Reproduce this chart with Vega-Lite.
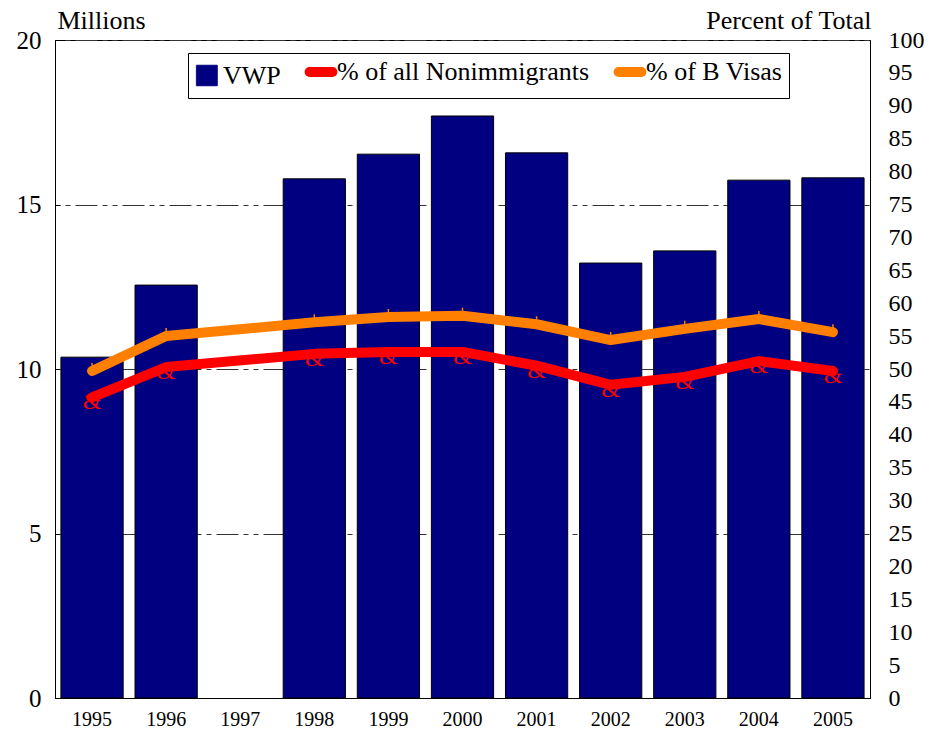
{
  "$schema": "https://vega.github.io/schema/vega-lite/v6.json",
  "width": 815,
  "height": 658,
  "autosize": {"type": "none"},
  "padding": {"left": 55, "top": 40, "right": 62, "bottom": 36},
  "background": "white",
  "config": {
    "view": {"stroke": "black", "strokeWidth": 1},
    "font": "Liberation Serif",
    "legend": {"labelFont": "Liberation Serif", "labelFontSize": 26, "labelColor": "black", "labelLimit": 0, "title": null}
  },
  "datasets": {
    "bars": [
      {"year": "1995", "millions": 10.36},
      {"year": "1996", "millions": 12.55},
      {"year": "1998", "millions": 15.78},
      {"year": "1999", "millions": 16.53},
      {"year": "2000", "millions": 17.69},
      {"year": "2001", "millions": 16.57},
      {"year": "2002", "millions": 13.22},
      {"year": "2003", "millions": 13.59},
      {"year": "2004", "millions": 15.74},
      {"year": "2005", "millions": 15.81}
    ],
    "lines": [
      {"year": "1995", "series": "% of all Nonimmigrants", "pct": 45.7},
      {"year": "1996", "series": "% of all Nonimmigrants", "pct": 50.3},
      {"year": "1998", "series": "% of all Nonimmigrants", "pct": 52.3},
      {"year": "1999", "series": "% of all Nonimmigrants", "pct": 52.6},
      {"year": "2000", "series": "% of all Nonimmigrants", "pct": 52.6},
      {"year": "2001", "series": "% of all Nonimmigrants", "pct": 50.5},
      {"year": "2002", "series": "% of all Nonimmigrants", "pct": 47.6},
      {"year": "2003", "series": "% of all Nonimmigrants", "pct": 48.8},
      {"year": "2004", "series": "% of all Nonimmigrants", "pct": 51.2},
      {"year": "2005", "series": "% of all Nonimmigrants", "pct": 49.7},
      {"year": "1995", "series": "% of B Visas", "pct": 49.7},
      {"year": "1996", "series": "% of B Visas", "pct": 55.0},
      {"year": "1998", "series": "% of B Visas", "pct": 57.1},
      {"year": "1999", "series": "% of B Visas", "pct": 57.9},
      {"year": "2000", "series": "% of B Visas", "pct": 58.1},
      {"year": "2001", "series": "% of B Visas", "pct": 56.8},
      {"year": "2002", "series": "% of B Visas", "pct": 54.4},
      {"year": "2003", "series": "% of B Visas", "pct": 56.1},
      {"year": "2004", "series": "% of B Visas", "pct": 57.6},
      {"year": "2005", "series": "% of B Visas", "pct": 55.6}
    ]
  },
  "layer": [
    {
      "data": {"name": "bars"},
      "mark": {"type": "bar", "stroke": "black", "strokeWidth": 1},
      "encoding": {
        "x": {
          "field": "year", "type": "ordinal",
          "scale": {"domain": ["1995","1996","1997","1998","1999","2000","2001","2002","2003","2004","2005"], "paddingInner": 0.16, "paddingOuter": 0.08},
          "axis": {"title": null, "labelAngle": 0, "labelFont": "Liberation Serif", "labelFontSize": 20, "labelColor": "black", "labelPadding": 11, "ticks": false, "domainColor": "black"}
        },
        "y": {
          "field": "millions", "type": "quantitative",
          "scale": {"domain": [0, 20]},
          "axis": {
            "values": [0, 5, 10, 15, 20],
            "title": "Millions", "titleAngle": 0, "titleAlign": "left", "titleBaseline": "alphabetic",
            "titleX": 2, "titleY": -12, "titleFont": "Liberation Serif", "titleFontSize": 26, "titleFontWeight": "normal", "titleColor": "black",
            "labelFont": "Liberation Serif", "labelFontSize": 25, "labelColor": "black", "labelPadding": 19,
            "ticks": true, "tickSize": -5, "tickColor": "black", "domainColor": "black",
            "grid": true, "gridColor": "#333333", "gridDash": [5, 5, 5, 5, 22, 5], "gridWidth": 1
          }
        },
        "color": {
          "datum": "VWP",
          "scale": {"domain": ["VWP", "% of all Nonimmigrants", "% of B Visas"], "range": ["#000080", "#FF0000", "#FF8000"]},
          "legend": {
            "title": null, "orient": "none", "direction": "horizontal",
            "legendX": 133, "legendY": 13,
            "strokeColor": "black", "fillColor": "white", "padding": 6,
            "labelFont": "Liberation Serif", "labelFontSize": 26, "labelColor": "black", "labelLimit": 0,
            "columnPadding": 8, "labelOffset": 3, "symbolOpacity": 1, "symbolSize": 676, "symbolStrokeWidth": 1,
            "encode": {
              "symbols": {
                "update": {
                  "shape": {"signal": "datum.value === 'VWP' ? 'square' : 'stroke'"},
                  "size": {"signal": "datum.value === 'VWP' ? 420 : 520"},
                  "fill": {"signal": "datum.value === 'VWP' ? '#000080' : 'transparent'"},
                  "stroke": {"signal": "datum.value === 'VWP' ? 'black' : (datum.value === '% of B Visas' ? '#FF8000' : '#FF0000')"},
                  "strokeWidth": {"signal": "datum.value === 'VWP' ? 1 : 10"},
                  "strokeCap": {"value": "round"}
                }
              }
            }
          }
        }
      }
    },
    {
      "data": {"name": "lines"},
      "mark": {"type": "line", "strokeWidth": 10, "strokeCap": "round", "strokeJoin": "round"},
      "encoding": {
        "x": {"field": "year", "type": "ordinal"},
        "y": {
          "field": "pct", "type": "quantitative",
          "scale": {"domain": [0, 100]},
          "axis": {
            "orient": "right", "values": [0,5,10,15,20,25,30,35,40,45,50,55,60,65,70,75,80,85,90,95,100],
            "title": "Percent of Total", "titleAngle": 0, "titleAlign": "right", "titleBaseline": "alphabetic",
            "titleX": 1, "titleY": -12, "titleFont": "Liberation Serif", "titleFontSize": 26, "titleFontWeight": "normal", "titleColor": "black",
            "labelFont": "Liberation Serif", "labelFontSize": 24, "labelColor": "black", "labelPadding": 18,
            "ticks": false, "domainColor": "black", "grid": false
          }
        },
        "color": {
          "field": "series", "type": "nominal",
          "legend": {
            "title": null, "orient": "none", "direction": "horizontal",
            "legendX": 133, "legendY": 13,
            "strokeColor": "black", "fillColor": "white", "padding": 6,
            "labelFont": "Liberation Serif", "labelFontSize": 26, "labelColor": "black", "labelLimit": 0,
            "columnPadding": 8, "labelOffset": 3, "symbolOpacity": 1, "symbolSize": 676, "symbolStrokeWidth": 1,
            "encode": {
              "symbols": {
                "update": {
                  "shape": {"signal": "datum.value === 'VWP' ? 'square' : 'stroke'"},
                  "size": {"signal": "datum.value === 'VWP' ? 420 : 520"},
                  "fill": {"signal": "datum.value === 'VWP' ? '#000080' : 'transparent'"},
                  "stroke": {"signal": "datum.value === 'VWP' ? 'black' : (datum.value === '% of B Visas' ? '#FF8000' : '#FF0000')"},
                  "strokeWidth": {"signal": "datum.value === 'VWP' ? 1 : 10"},
                  "strokeCap": {"value": "round"}
                }
              }
            }
          }
        }
      }
    },
    {
      "data": {"name": "lines"},
      "transform": [{"filter": "datum.series === '% of all Nonimmigrants'"}],
      "mark": {"type": "text", "text": "&", "font": "Liberation Serif", "fontSize": 24, "color": "#FF0000", "dy": 5},
      "encoding": {
        "x": {"field": "year", "type": "ordinal"},
        "y": {"field": "pct", "type": "quantitative", "scale": {"domain": [0, 100]}, "axis": null}
      }
    },
    {
      "data": {"name": "lines"},
      "transform": [{"filter": "datum.series === '% of B Visas'"}],
      "mark": {"type": "point", "shape": "M0,-1.6V-0.6", "size": 100, "stroke": "#FF8000", "strokeWidth": 1.5, "filled": false, "opacity": 1},
      "encoding": {
        "x": {"field": "year", "type": "ordinal"},
        "y": {"field": "pct", "type": "quantitative", "scale": {"domain": [0, 100]}, "axis": null}
      }
    }
  ],
  "resolve": {"scale": {"y": "independent"}}
}
